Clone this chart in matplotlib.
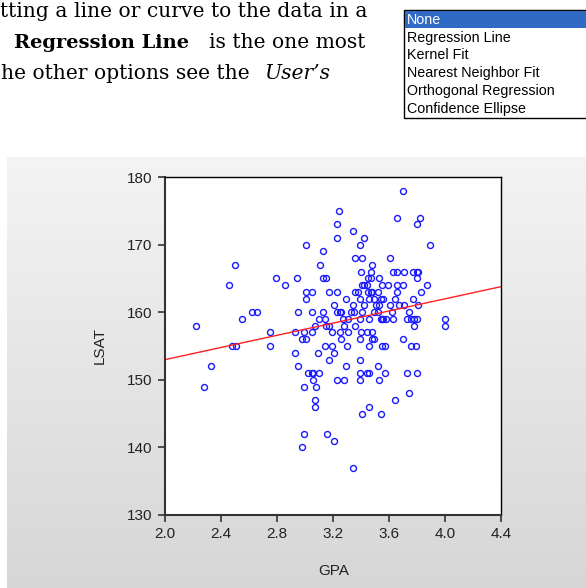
import numpy as np
import matplotlib
matplotlib.use("Agg")
import matplotlib.pyplot as plt
from matplotlib.patches import Rectangle

# LSAT vs GPA (LSAT is an integer score)
gpa = [3.70,
       3.24,
       3.66, 3.82,
       3.23, 3.80,
       3.34,
       3.23, 3.42,
       3.01, 3.39, 3.89,
       3.13,
       3.36, 3.41, 3.61,
       2.50, 3.11, 3.48,
       3.40, 3.47, 3.63, 3.66, 3.71, 3.77, 3.80, 3.81,
       2.79, 2.94, 3.13, 3.15, 3.45, 3.47, 3.53, 3.80,
       2.46, 2.86, 3.41, 3.42, 3.44, 3.55, 3.59, 3.66, 3.70, 3.87,
       3.01, 3.05, 3.17, 3.23, 3.36, 3.38, 3.45, 3.47, 3.48, 3.52, 3.66, 3.83,
       3.01, 3.29, 3.39, 3.46, 3.49, 3.54, 3.56, 3.64, 3.77,
       3.21, 3.34, 3.42, 3.51, 3.53, 3.61, 3.67, 3.71, 3.81,
       2.62, 2.66, 2.95, 3.05, 3.13, 3.23, 3.25, 3.26, 3.33, 3.35, 3.41, 3.49, 3.52, 3.62, 3.74,
       2.55, 3.10, 3.14, 3.27, 3.31, 3.39, 3.46, 3.54, 3.55, 3.56, 3.58, 3.63, 3.73, 3.76, 3.78, 3.80, 4.00,
       2.22, 3.07, 3.15, 3.17, 3.28, 3.36, 3.78, 4.00,
       2.75, 2.93, 2.99, 3.05, 3.19, 3.25, 3.31, 3.40, 3.44, 3.48,
       2.98, 3.01, 3.26, 3.39, 3.48, 3.49, 3.70,
       2.48, 2.51, 2.75, 3.14, 3.19, 3.30, 3.46, 3.55, 3.57, 3.76, 3.79,
       2.93, 3.09, 3.21,
       3.17, 3.39,
       2.33, 2.95, 3.29, 3.52,
       3.02, 3.05, 3.06, 3.10, 3.39, 3.44, 3.46, 3.57, 3.73, 3.80,
       3.06, 3.23, 3.28, 3.39, 3.53,
       2.28, 2.99, 3.08,
       3.74,
       3.07, 3.64,
       3.07, 3.46,
       3.41, 3.54,
       2.99, 3.16,
       3.21,
       2.98,
       3.34]

lsat = [178,
        175,
        174, 174,
        173, 173,
        172,
        171, 171,
        170, 170, 170,
        169,
        168, 168, 168,
        167, 167, 167,
        166, 166, 166, 166, 166, 166, 166, 166,
        165, 165, 165, 165, 165, 165, 165, 165,
        164, 164, 164, 164, 164, 164, 164, 164, 164, 164,
        163, 163, 163, 163, 163, 163, 163, 163, 163, 163, 163, 163,
        162, 162, 162, 162, 162, 162, 162, 162, 162,
        161, 161, 161, 161, 161, 161, 161, 161, 161,
        160, 160, 160, 160, 160, 160, 160, 160, 160, 160, 160, 160, 160, 160, 160,
        159, 159, 159, 159, 159, 159, 159, 159, 159, 159, 159, 159, 159, 159, 159, 159, 159,
        158, 158, 158, 158, 158, 158, 158, 158,
        157, 157, 157, 157, 157, 157, 157, 157, 157, 157,
        156, 156, 156, 156, 156, 156, 156,
        155, 155, 155, 155, 155, 155, 155, 155, 155, 155, 155,
        154, 154, 154,
        153, 153,
        152, 152, 152, 152,
        151, 151, 151, 151, 151, 151, 151, 151, 151, 151,
        150, 150, 150, 150, 150,
        149, 149, 149,
        148,
        147, 147,
        146, 146,
        145, 145,
        142, 142,
        141,
        140,
        137]

x_ticks = [2.0, 2.4, 2.8, 3.2, 3.6, 4.0, 4.4]
y_ticks = [130, 140, 150, 160, 170, 180]
menu_items = ["None", "Regression Line", "Kernel Fit", "Nearest Neighbor Fit",
              "Orthogonal Regression", "Confidence Ellipse"]

W, H = 586, 588
fig = plt.figure(figsize=(W / 100, H / 100), dpi=100)
fig.patch.set_facecolor("white")

# background layer in pixel coordinates
bg = fig.add_axes([0, 0, 1, 1], zorder=0)
bg.axis("off")

# grey gradient panel behind the graph
grad = np.linspace(0.955, 0.84, 200).reshape(-1, 1)
bg.imshow(np.dstack([grad, grad, grad]), extent=(7, W, H, 157),
          aspect="auto", origin="upper", interpolation="bilinear")
bg.set_xlim(0, W)
bg.set_ylim(H, 0)

# fragment of document text above the graph
serif = "DejaVu Serif"
tsize = 14.6
bg.text(0, 17, "tting a line or curve to the data in a", fontsize=tsize,
        family=serif, va="baseline", ha="left")
bg.text(14, 48, "Regression Line", fontsize=14.0, family=serif,
        weight="bold", va="baseline", ha="left")
bg.text(209, 48, "is the one most", fontsize=tsize, family=serif,
        va="baseline", ha="left")
bg.text(1, 79, "he other options see the", fontsize=tsize, family=serif,
        va="baseline", ha="left")
bg.text(264, 79, "User\u2019s", fontsize=tsize, family=serif,
        style="italic", va="baseline", ha="left")

# list box with the fit options
bg.add_patch(Rectangle((404, 9.5), 190, 108, facecolor="white",
                       edgecolor="black", lw=1.0))
bg.add_patch(Rectangle((405, 10.5), 190, 17, facecolor="#316AC5",
                       edgecolor="none"))
for i, item in enumerate(menu_items):
    bg.text(407, 20 + i * 17.7, item, fontsize=10.3, family="Liberation Sans",
            color="white" if i == 0 else "black", va="center", ha="left")

# the scatter plot
ax = fig.add_axes([165 / W, 73 / H, 336 / W, 338 / H], zorder=1)
ax.set_facecolor("white")
ax.plot(gpa, lsat, linestyle="none", marker="o", markersize=4.3,
        markerfacecolor="none", markeredgecolor="#1a1aff", markeredgewidth=1.0)

b, a = np.polyfit(gpa, lsat, 1)
xx = np.array([x_ticks[0], x_ticks[-1]])
ax.plot(xx, a + b * xx, color="#ff2020", lw=1.0)

ax.set_xlim(x_ticks[0], x_ticks[-1])
ax.set_ylim(y_ticks[0], y_ticks[-1])
ax.set_xticks(x_ticks)
ax.set_xticklabels(["%.1f" % v for v in x_ticks])
ax.set_yticks(y_ticks)
for s in ["top", "right"]:
    ax.spines[s].set_color("black")
    ax.spines[s].set_linewidth(1.0)
for s in ["left", "bottom"]:
    ax.spines[s].set_color("#333333")
    ax.spines[s].set_linewidth(1.5)
ax.tick_params(direction="out", length=5, width=1.2, pad=4, color="#333333",
               labelsize=11, labelcolor="#222222")
for lab in ax.get_xticklabels() + ax.get_yticklabels():
    lab.set_family("Liberation Sans")

bg.text(334, 571, "GPA", fontsize=11, family="Liberation Sans",
        color="#222222", ha="center", va="center")
bg.text(100, 346, "LSAT", fontsize=11, family="Liberation Sans",
        color="#222222", ha="center", va="center", rotation=90)

fig.savefig("out.png", dpi=100)
